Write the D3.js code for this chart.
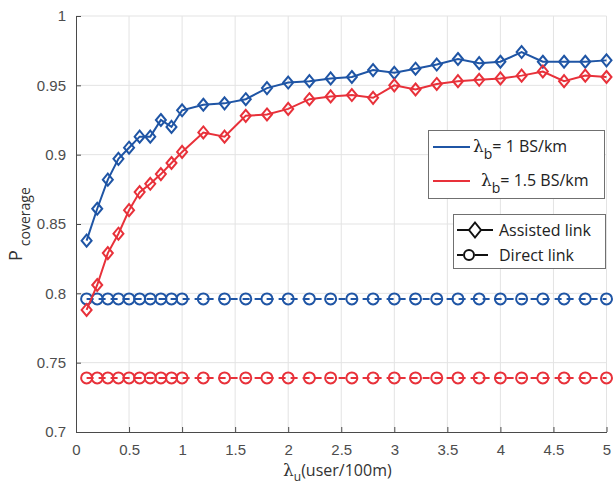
<!DOCTYPE html>
<html>
<head>
<meta charset="utf-8">
<script src="https://cdn.jsdelivr.net/npm/d3@7"></script>
<style>
  html, body { margin: 0; padding: 0; background: #fff; }
  svg { display: block; font-family: "Open Sans", "Noto Sans", sans-serif; }
  .tick text { fill: #4d4d4d; font-size: 15px; }
</style>
</head>
<body>
<div id="chart"></div>
<script>
// x positions of the simulated points
const xs = [0.1, 0.2, 0.3, 0.4, 0.5, 0.6, 0.7, 0.8, 0.9, 1.0,
  1.2, 1.4, 1.6, 1.8, 2.0, 2.2, 2.4, 2.6, 2.8, 3.0,
  3.2, 3.4, 3.6, 3.8, 4.0, 4.2, 4.4, 4.6, 4.8, 5.0];

// assisted link, lambda_b = 1 BS/km
const assisted1 = [0.838, 0.861, 0.882, 0.897, 0.905, 0.913, 0.913, 0.925, 0.920, 0.932,
  0.936, 0.937, 0.940, 0.948, 0.952, 0.953, 0.955, 0.956, 0.961, 0.959,
  0.962, 0.965, 0.969, 0.966, 0.967, 0.974, 0.967, 0.967, 0.967, 0.968];

// assisted link, lambda_b = 1.5 BS/km
const assisted15 = [0.788, 0.806, 0.829, 0.843, 0.860, 0.873, 0.879, 0.886, 0.894, 0.902,
  0.916, 0.913, 0.928, 0.929, 0.933, 0.940, 0.942, 0.943, 0.941, 0.950,
  0.947, 0.951, 0.953, 0.954, 0.955, 0.957, 0.960, 0.953, 0.957, 0.956];

// direct link (flat)
const direct1 = xs.map(() => 0.796);
const direct15 = xs.map(() => 0.739);

const xTicks = [0, 0.5, 1, 1.5, 2, 2.5, 3, 3.5, 4, 4.5, 5];
const yTicks = [0.7, 0.75, 0.8, 0.85, 0.9, 0.95, 1];

const BLUE = '#1f55a5', RED = '#e8313a';

const W = 613, H = 486;
const m = { t: 16, r: 6, b: 54, l: 76 };
const svg = d3.select('#chart').append('svg').attr('width', W).attr('height', H);

const x = d3.scaleLinear().domain([0, 5]).range([m.l, W - m.r - 0.5]);
const y = d3.scaleLinear().domain([0.7, 1]).range([H - m.b, m.t]);

// grid
const g = svg.append('g');
g.selectAll('line.gx').data(xTicks.slice(1)).join('line')
  .attr('x1', d => x(d)).attr('x2', d => x(d)).attr('y1', y(0.7)).attr('y2', y(1))
  .attr('stroke', '#e3e3e3').attr('stroke-width', 1);
g.selectAll('line.gy').data(yTicks.slice(1)).join('line')
  .attr('y1', d => y(d)).attr('y2', d => y(d)).attr('x1', x(0)).attr('x2', x(5))
  .attr('stroke', '#e3e3e3').attr('stroke-width', 1);

// axes, ticks pointing inward
const fmt = d => d3.format('~g')(d);
const ax = svg.append('g').attr('transform', `translate(0,${y(0.7)})`)
  .call(d3.axisBottom(x).tickValues(xTicks).tickFormat(fmt).tickSize(-5).tickPadding(12).tickSizeOuter(0));
const ay = svg.append('g').attr('transform', `translate(${x(0)},0)`)
  .call(d3.axisLeft(y).tickValues(yTicks).tickFormat(fmt).tickSize(-5).tickPadding(10).tickSizeOuter(0));
[ax, ay].forEach(a => {
  a.select('.domain').attr('stroke', '#4a4a4a');
  a.selectAll('.tick line').attr('stroke', '#4a4a4a');
});

// series
const line = d3.line().x((d, i) => x(xs[i])).y(d => y(d));
const diamond = (cx, cy, w = 5, h = 6) => `M${cx},${cy - h}L${cx + w},${cy}L${cx},${cy + h}L${cx - w},${cy}Z`;

function drawAssisted(vals, col) {
  svg.append('path').datum(vals).attr('d', line)
    .attr('fill', 'none').attr('stroke', col).attr('stroke-width', 2);
  svg.append('g').selectAll('path').data(vals).join('path')
    .attr('d', (d, i) => diamond(x(xs[i]), y(d)))
    .attr('fill', 'none').attr('stroke', col).attr('stroke-width', 2);
}
function drawDirect(vals, col) {
  svg.append('path').datum(vals).attr('d', line)
    .attr('fill', 'none').attr('stroke', col).attr('stroke-width', 2)
    .attr('stroke-dasharray', '7,5');
  svg.append('g').selectAll('circle').data(vals).join('circle')
    .attr('cx', (d, i) => x(xs[i])).attr('cy', d => y(d)).attr('r', 5.5)
    .attr('fill', 'none').attr('stroke', col).attr('stroke-width', 2);
}
drawDirect(direct1, BLUE);
drawDirect(direct15, RED);
drawAssisted(assisted1, BLUE);
drawAssisted(assisted15, RED);

// legend 1: colours
const l1 = svg.append('g');
l1.append('rect').attr('x', 428.5).attr('y', 130.5).attr('width', 176).attr('height', 68)
  .attr('fill', '#fff').attr('stroke', '#707070').attr('stroke-width', 1);
[[BLUE, 147, 433, 473, '1 BS/km'], [RED, 181, 433, 481, '1.5 BS/km']].forEach(([c, ly, lx, tx, lab]) => {
  l1.append('line').attr('x1', lx).attr('x2', lx + 37).attr('y1', ly).attr('y2', ly)
    .attr('stroke', c).attr('stroke-width', 2);
  const t = l1.append('text').attr('x', tx).attr('y', ly + 5).attr('font-size', 16).attr('fill', '#222');
  t.append('tspan').text('λ').attr('font-family', 'DejaVu Serif').attr('font-size', 17);
  t.append('tspan').text('b').attr('dy', 7).attr('font-size', 14);
  t.append('tspan').text('= ' + lab).attr('dy', -7);
});

// legend 2: marker types
const l2 = svg.append('g');
l2.append('rect').attr('x', 453.5).attr('y', 214.5).attr('width', 152).attr('height', 54)
  .attr('fill', '#fff').attr('stroke', '#707070').attr('stroke-width', 1);
l2.append('line').attr('x1', 457).attr('x2', 493).attr('y1', 230).attr('y2', 230)
  .attr('stroke', '#111').attr('stroke-width', 2);
l2.append('path').attr('d', diamond(475, 230, 6, 7.5)).attr('fill', '#fff').attr('stroke', '#111').attr('stroke-width', 2);
l2.append('line').attr('x1', 457).attr('x2', 463).attr('y1', 255).attr('y2', 255)
  .attr('stroke', '#111').attr('stroke-width', 2);
l2.append('line').attr('x1', 475).attr('x2', 488).attr('y1', 255).attr('y2', 255)
  .attr('stroke', '#111').attr('stroke-width', 2);
l2.append('circle').attr('cx', 469).attr('cy', 255).attr('r', 5).attr('fill', '#fff')
  .attr('stroke', '#111').attr('stroke-width', 2);
l2.append('text').attr('x', 499).attr('y', 236).attr('font-size', 16).attr('fill', '#222').text('Assisted link');
l2.append('text').attr('x', 499).attr('y', 261).attr('font-size', 16).attr('fill', '#222').text('Direct link');

// axis labels
const xl = svg.append('text').attr('x', 283).attr('y', 476).attr('font-size', 16).attr('fill', '#333');
xl.append('tspan').text('λ').attr('font-family', 'DejaVu Serif').attr('font-size', 17);
xl.append('tspan').text('u').attr('dy', 5).attr('font-size', 12);
xl.append('tspan').text('(user/100m)').attr('dy', -5);

const yl = svg.append('text').attr('transform', 'translate(22,261) rotate(-90)')
  .attr('font-size', 18).attr('fill', '#333');
yl.append('tspan').text('P');
yl.append('tspan').text('coverage').attr('dx', 4).attr('dy', 8).attr('font-size', 14);
</script>
</body>
</html>
